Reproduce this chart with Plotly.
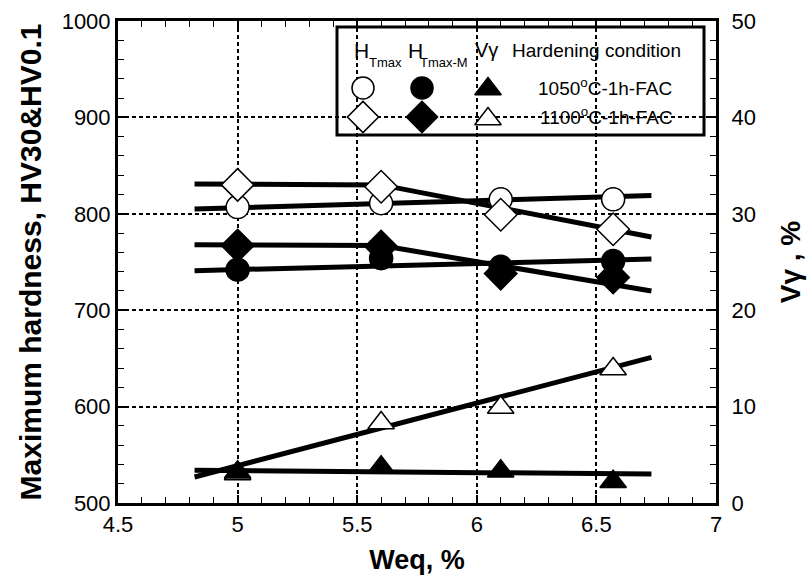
import plotly.graph_objects as go

# ---------------- data ----------------
weq = [5.0, 5.6, 6.1, 6.57]
htmax_1050 = [807, 811, 815, 815]        # open circles
htmax_1100 = [830, 828, 799, 784]        # open diamonds
htmaxm_1050 = [742, 754, 745, 751]       # filled circles
htmaxm_1100 = [767, 766, 738, 734]       # filled diamonds
vg_1050 = [3.2, 3.7, 3.3, 2.2]           # filled triangles (right axis)
vg_1100 = [3.0, 8.3, 9.9, 13.9]          # open triangles (right axis)

# fitted trend lines
fit_x2 = [4.82, 6.73]
fit_x3 = [4.82, 5.6, 6.73]
fit_htmax_1050 = [805, 819]
fit_htmax_1100 = [831, 830, 776]
fit_htmaxm_1050 = [741, 753]
fit_htmaxm_1100 = [768, 767, 720]
fit_vg_1050 = [3.4, 3.0]
fit_vg_1100 = [2.7, 15.1]

x_ticks = [4.5, 5, 5.5, 6, 6.5, 7]
left_ticks = [500, 600, 700, 800, 900, 1000]
right_ticks = [0, 10, 20, 30, 40, 50]

FONT = "Arial, Liberation Sans, sans-serif"
W, H = 808, 581
L, R, T, B = 118, 92, 21, 78
PW, PH = W - L - R, H - T - B

def px(x):
    return (x - L) / PW

def py(y):
    return (H - B - y) / PH

fig = go.Figure()

LW = 5
# trend lines
fig.add_trace(go.Scatter(x=fit_x2, y=fit_htmax_1050, mode="lines", line=dict(color="black", width=LW)))
fig.add_trace(go.Scatter(x=fit_x3, y=fit_htmax_1100, mode="lines", line=dict(color="black", width=LW)))
fig.add_trace(go.Scatter(x=fit_x2, y=fit_htmaxm_1050, mode="lines", line=dict(color="black", width=LW)))
fig.add_trace(go.Scatter(x=fit_x3, y=fit_htmaxm_1100, mode="lines", line=dict(color="black", width=LW)))
fig.add_trace(go.Scatter(x=fit_x2, y=fit_vg_1050, mode="lines", line=dict(color="black", width=LW), yaxis="y2"))
fig.add_trace(go.Scatter(x=fit_x2, y=fit_vg_1100, mode="lines", line=dict(color="black", width=LW), yaxis="y2"))

def mk(symbol, filled, size=22):
    return dict(symbol=symbol, size=size, color="black" if filled else "white", opacity=1,
                line=dict(color="black", width=1.5))

fig.add_trace(go.Scatter(x=weq, y=htmax_1050, mode="markers", marker=mk("circle", False, 23)))
fig.add_trace(go.Scatter(x=weq, y=htmax_1100, mode="markers", marker=mk("diamond", False, 25)))
fig.add_trace(go.Scatter(x=weq, y=htmaxm_1050, mode="markers", marker=mk("circle", True, 23)))
fig.add_trace(go.Scatter(x=weq, y=htmaxm_1100, mode="markers", marker=mk("diamond", True, 25)))
fig.add_trace(go.Scatter(x=weq, y=vg_1100, mode="markers", marker=mk("triangle-up", False, 23), yaxis="y2"))
fig.add_trace(go.Scatter(x=weq, y=vg_1050, mode="markers", marker=mk("triangle-up", True, 23), yaxis="y2"))

# custom legend markers on an overlay [0,1] axis
leg_x = [px(363), px(422), px(488), px(363), px(422), px(488)]
leg_y = [py(88), py(88), py(89), py(117), py(117), py(119)]
leg_sym = ["circle", "circle", "triangle-up", "diamond", "diamond", "triangle-up"]
leg_fill = ["white", "black", "black", "white", "black", "white"]
leg_size = [22, 22, 23, 24, 24, 23]
fig.add_trace(go.Scatter(x=leg_x, y=leg_y, mode="markers", xaxis="x3", yaxis="y3",
                         marker=dict(symbol=leg_sym, size=leg_size, color=leg_fill, opacity=1,
                                     line=dict(color="black", width=1.5))))

grid = dict(showgrid=True, gridcolor="black", gridwidth=1.5, griddash="4px,3px")
fig.update_layout(
    width=W, height=H,
    margin=dict(l=L, r=R, t=T, b=B),
    paper_bgcolor="white", plot_bgcolor="white",
    showlegend=False,
    font=dict(family=FONT, color="black", size=22),
    xaxis=dict(range=[4.5, 7], tickvals=x_ticks, ticktext=[str(v) for v in x_ticks],
               ticks="inside", ticklen=8, tickwidth=1.5, tickcolor="black",
               minor=dict(dtick=0.1, ticks="inside", ticklen=6, tickwidth=1, tickcolor="black", showgrid=False),
               showline=True, linecolor="black", linewidth=3, mirror="ticks",
               zeroline=False, tickfont=dict(size=22), automargin=False,
               title=dict(text="<b>Weq, %</b>", font=dict(size=27), standoff=14),
               **grid),
    yaxis=dict(range=[500, 1000], tickvals=left_ticks,
               ticks="inside", ticklen=8, tickwidth=1.5, tickcolor="black",
               minor=dict(dtick=20, ticks="inside", ticklen=6, tickwidth=1, tickcolor="black", showgrid=False),
               showline=True, linecolor="black", linewidth=3,
               zeroline=False, tickfont=dict(size=22), automargin=False,
               title=dict(text="<b>Maximum hardness, HV30&HV0.1</b>", font=dict(size=30), standoff=12),
               **grid),
    yaxis2=dict(range=[0, 50], tickvals=right_ticks, overlaying="y", side="right",
                ticks="inside", ticklen=8, tickwidth=1.5, tickcolor="black",
                minor=dict(dtick=2, ticks="inside", ticklen=6, tickwidth=1, tickcolor="black", showgrid=False),
                showline=True, linecolor="black", linewidth=3, showgrid=False,
                zeroline=False, tickfont=dict(size=22), ticklabelstandoff=8, automargin=False,
                title=dict(text="<b>Vγ , %</b>", font=dict(size=28), standoff=26)),
    xaxis3=dict(range=[0, 1], overlaying="x", visible=False, fixedrange=True),
    yaxis3=dict(range=[0, 1], overlaying="y", visible=False, anchor="x3", fixedrange=True),
)

# legend box
fig.add_shape(type="rect", xref="paper", yref="paper",
              x0=px(337), x1=px(704), y0=py(135), y1=py(27),
              line=dict(color="black", width=3), fillcolor="white", layer="between")

LF = 19
def ann(x, y, text, size=LF):
    fig.add_annotation(x=px(x), y=py(y), xref="paper", yref="paper", text=text,
                       showarrow=False, font=dict(size=size, family=FONT, color="black"),
                       xanchor="center", yanchor="middle")

ann(361, 50, "H", 21)
ann(385, 62, "Tmax", 13)
ann(415, 50, "H", 21)
ann(444, 62, "Tmax-M", 13)
ann(486, 50, "Vγ", 20)
ann(596, 50, "Hardening condition")
ann(605, 87, "1050<sup>o</sup>C-1h-FAC")
ann(606, 116, "1100<sup>o</sup>C-1h-FAC")

fig.write_html("out.html")
